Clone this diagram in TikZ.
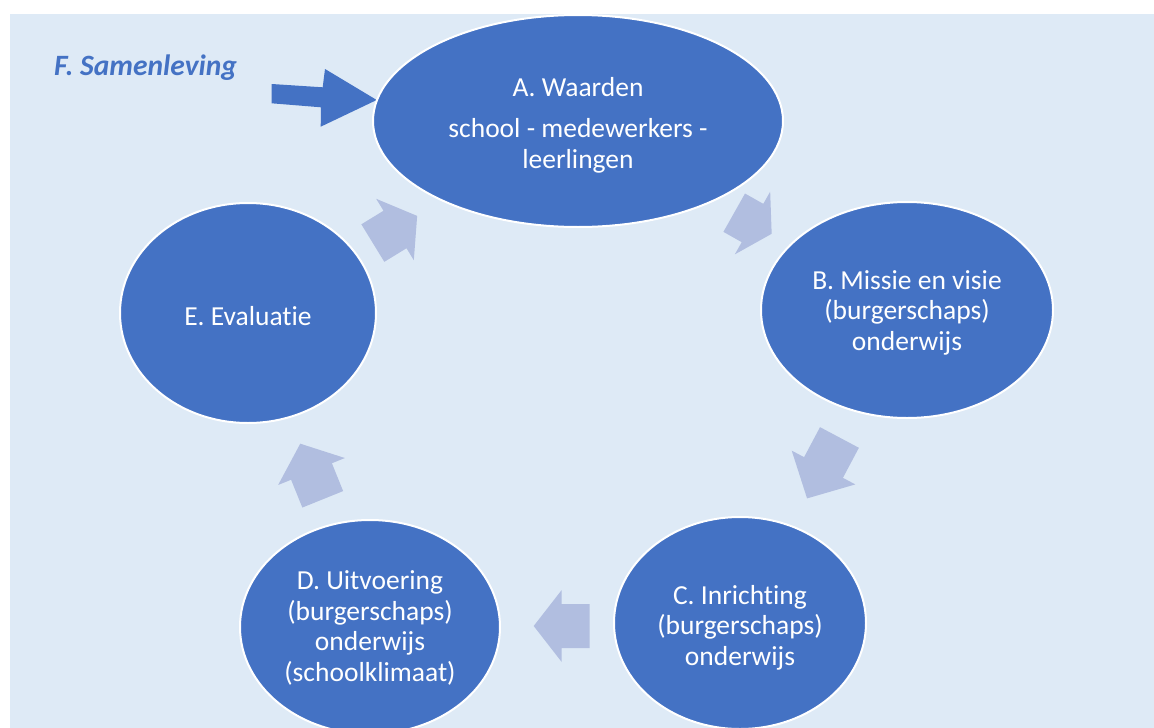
\documentclass[tikz,border=0pt]{standalone}
\usepackage{fontspec}
\setmainfont[Ligatures={NoCommon,NoContextual}]{Carlito}
\usetikzlibrary{shapes.geometric}
\definecolor{bgblue}{HTML}{DEEAF6}
\definecolor{accent}{HTML}{4472C4}
\definecolor{lightarrow}{HTML}{B1BEE0}
\tikzset{
  cyclenode/.style={ellipse, fill=accent, draw=white, line width=2pt, inner sep=0pt},
  celltext/.style={text=white, align=center, inner sep=0pt, font=\fontsize{27.5}{30.5}\selectfont},
  lightblock/.style={fill=lightarrow, draw=none},
  bigarrow/.style={fill=accent, draw=none},
}
% x, y (head base middle), angle, shaft length, head length
\newcommand{\blockarr}[5]{%
  \fill[lightblock, shift={(#1,#2)}, rotate=#3]
    (-#4,-22) -- (0,-22) -- (0,-36) -- (#5,0) -- (0,36) -- (0,22) -- (-#4,22) -- cycle;}
\begin{document}
\begin{tikzpicture}[x=1pt, y=-1pt]
  \useasboundingbox (0,0) rectangle (1154,728);
  \fill[white] (0,0) rectangle (1154,728);
  \fill[bgblue] (10,14) rectangle (1154,728);
  \begin{scope}
    \clip (10,14) rectangle (1154,728);
    % light cycle arrows
    \blockarr{752.5}{223}{-29.4}{21}{22}
    \blockarr{823.5}{467.5}{-118}{34}{35}
    \blockarr{561.7}{626}{180}{28}{28}
    \blockarr{311.5}{471.5}{112}{30}{30}
    \blockarr{395}{229.5}{31.5}{26}{26}
    % big arrow from F
    \fill[bigarrow] (271.7,84) -- (322.7,87.3) -- (325,69) -- (376.7,100)
      -- (320.7,126.7) -- (321,107.3) -- (271.7,103.3) -- cycle;
    % cycle nodes
    \node[cyclenode, minimum width=410pt, minimum height=212pt] (a) at (578,121) {};
    \node[cyclenode, minimum width=292pt, minimum height=216pt] (b) at (907,310) {};
    \node[cyclenode, minimum width=252pt, minimum height=212pt] (c) at (740,623) {};
    \node[cyclenode, minimum width=260pt, minimum height=214pt] (d) at (370,627) {};
    \node[cyclenode, minimum width=256pt, minimum height=220pt] (e) at (248,313) {};
    \node[celltext, yshift=-4pt] (ta) at (a) {A. Waarden\\[11pt]school - medewerkers -\\leerlingen};
    \node[celltext, yshift=-2.5pt] (tb) at (b) {B. Missie en visie\\(burgerschaps)\\onderwijs};
    \node[celltext, yshift=-4.5pt] (tc) at (c) {C. Inrichting\\(burgerschaps)\\onderwijs};
    \node[celltext, yshift=-1pt] (td) at (d) {D. Uitvoering\\(burgerschaps)\\onderwijs\\(schoolklimaat)};
    \node[celltext, yshift=-3pt] (te) at (e) {E. Evaluatie};
  \end{scope}
  \node[anchor=base west, inner sep=0pt, text=accent,
    font=\fontsize{29.5}{32}\selectfont\bfseries\itshape] (f) at (54,75) {F. Samenleving};
\end{tikzpicture}
\end{document}
